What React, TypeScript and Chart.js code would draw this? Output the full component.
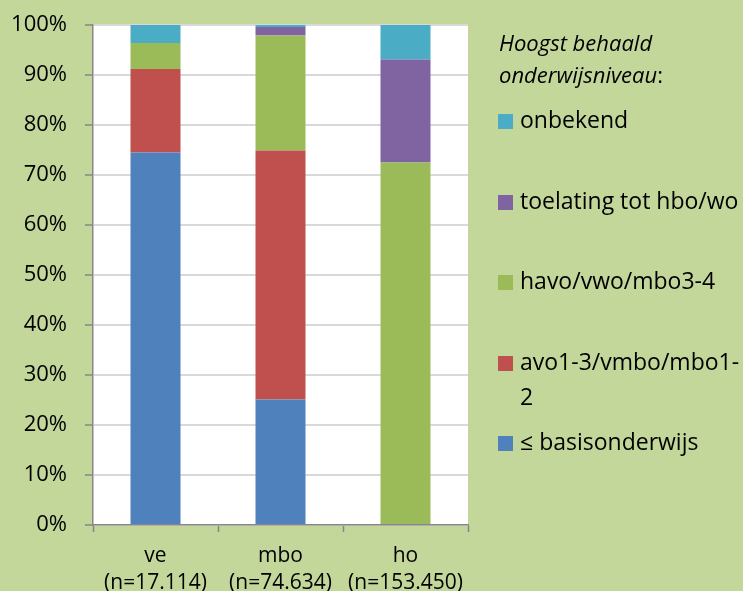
import React, { useEffect, useRef } from "react";
import { Chart, registerables } from "chart.js";

Chart.register(...registerables);

const categories: string[][] = [
  ["ve", "(n=17.114)"],
  ["mbo", "(n=74.634)"],
  ["ho", "(n=153.450)"],
];
const seriesNames = [
  "≤ basisonderwijs",
  "avo1-3/vmbo/mbo1-2",
  "havo/vwo/mbo3-4",
  "toelating tot hbo/wo",
  "onbekend",
];
const basisonderwijs = [74.5, 25.1, 0];
const avoVmbo = [16.7, 49.8, 0];
const havoVwo = [5.2, 23.0, 72.5];
const toelating = [0, 1.7, 20.6];
const onbekend = [3.6, 0.4, 6.9];
const colors = ["#4F81BD", "#C0504D", "#9BBB59", "#8064A2", "#4BACC6"];
const yTicks = [0, 10, 20, 30, 40, 50, 60, 70, 80, 90, 100];

const FONT = "'Open Sans', sans-serif";

export default function App() {
  const ref = useRef<HTMLCanvasElement>(null);
  useEffect(() => {
    if (!ref.current) return;
    const values = [basisonderwijs, avoVmbo, havoVwo, toelating, onbekend];
    const bgPlugin = {
      id: "bg",
      beforeDraw(chart: any) {
        const { ctx, chartArea } = chart;
        ctx.save();
        ctx.fillStyle = "#C4D79B";
        ctx.fillRect(0, 0, chart.width, chart.height);
        ctx.fillStyle = "#FFFFFF";
        ctx.fillRect(chartArea.left, chartArea.top, chartArea.right - chartArea.left, chartArea.bottom - chartArea.top);
        ctx.restore();
      },
    };
    const legendPlugin = {
      id: "customLegend",
      afterDraw(chart: any) {
        const ctx = chart.ctx;
        ctx.save();
        ctx.fillStyle = "#000";
        ctx.textBaseline = "middle";
        ctx.textAlign = "left";
        ctx.font = `italic 22px ${FONT}`;
        ctx.fillText("Hoogst behaald", 499, 45);
        const w = ctx.measureText("onderwijsniveau").width;
        ctx.fillText("onderwijsniveau", 499, 77);
        ctx.font = `22px ${FONT}`;
        ctx.fillText(":", 499 + w, 77);
        const items = [
          { idx: 4, y: 121, lines: [seriesNames[4]] },
          { idx: 3, y: 202, lines: [seriesNames[3]] },
          { idx: 2, y: 282, lines: [seriesNames[2]] },
          { idx: 1, y: 363, lines: ["avo1-3/vmbo/mbo1-", "2"] },
          { idx: 0, y: 443, lines: [seriesNames[0]] },
        ];
        ctx.font = `23px ${FONT}`;
        for (const it of items) {
          ctx.fillStyle = colors[it.idx];
          ctx.fillRect(498, it.y - 7, 15, 15);
          ctx.fillStyle = "#000";
          it.lines.forEach((l, i) => ctx.fillText(l, 520, it.y + i * 35));
        }
        ctx.restore();
      },
    };
    const chart = new Chart(ref.current, {
      type: "bar",
      data: {
        labels: categories,
        datasets: seriesNames.map((name, i) => ({
          label: name,
          data: values[i],
          backgroundColor: colors[i],
          borderWidth: 0,
          barPercentage: 0.4,
          categoryPercentage: 1,
        })),
      },
      options: {
        animation: false,
        responsive: false,
        maintainAspectRatio: false,
        layout: { padding: { left: 0, top: 25, right: 275, bottom: 0 } },
        plugins: { legend: { display: false }, tooltip: { enabled: false } },
        scales: {
          x: {
            stacked: true,
            afterFit(scale: any) {
              scale.height = 66;
              scale.paddingTop = 0;
              scale.paddingBottom = 0;
            },
            grid: {
              drawOnChartArea: false,
              drawTicks: true,
              tickLength: 7,
              tickColor: "#868686",
              tickWidth: 1.5,
            },
            border: { color: "#868686", width: 1.5 },
            ticks: {
              color: "#000",
              padding: 10,
              font: { family: FONT, size: 21, lineHeight: 1.3 },
              maxRotation: 0,
            },
          },
          y: {
            stacked: true,
            min: 0,
            max: 100,
            afterFit(scale: any) {
              scale.width = 93;
              scale.paddingTop = 0;
              scale.paddingBottom = 0;
            },
            afterBuildTicks(scale: any) {
              scale.ticks = yTicks.map((v) => ({ value: v }));
            },
            grid: {
              color: "#D9D9D9",
              lineWidth: 2,
              drawTicks: true,
              tickLength: 8,
              tickColor: "#868686",
              tickWidth: 1.5,
            },
            border: { color: "#868686", width: 1.5 },
            ticks: {
              color: "#000",
              padding: 18,
              font: { family: FONT, size: 22 },
              callback: (v: any) => `${v}%`,
            },
          },
        },
      },
      plugins: [bgPlugin, legendPlugin],
    });
    return () => chart.destroy();
  }, []);
  return (
    <div style={{ position: "fixed", left: 0, top: 0, width: 743, height: 591 }}>
      <canvas ref={ref} width={743} height={591} style={{ display: "block" }} />
    </div>
  );
}
